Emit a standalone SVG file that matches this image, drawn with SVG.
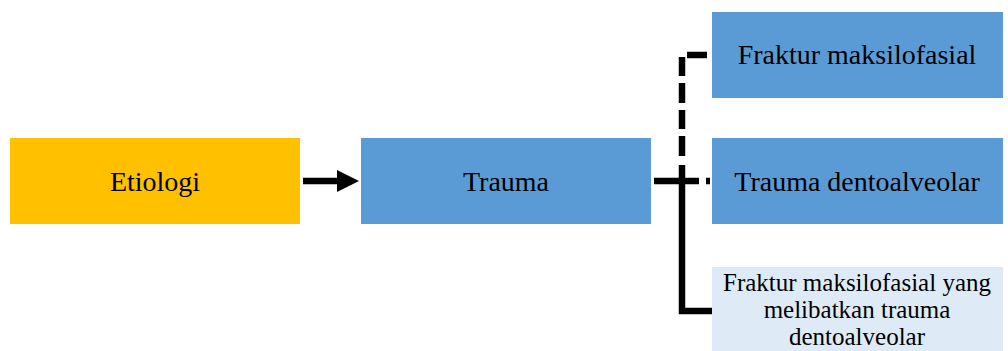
<svg xmlns="http://www.w3.org/2000/svg" width="1008" height="351" viewBox="0 0 1008 351">
<style>
text{font-family:"Liberation Serif","Times New Roman",serif;font-size:28px;fill:#000;text-anchor:middle}
text.s{font-size:25px}
.conn{fill:none;stroke:#000;stroke-width:6.5}
</style>
<rect width="1008" height="351" fill="#fff"/>
<g id="etiologi"><rect x="10" y="138" width="290" height="86" fill="#FFC000"/><text x="155" y="191">Etiologi</text></g>
<g id="trauma"><rect x="361" y="138" width="290" height="86" fill="#5B9BD5"/><text x="506" y="191">Trauma</text></g>
<g id="fraktur"><rect x="712" y="12" width="291" height="86" fill="#5B9BD5"/><text x="857" y="64">Fraktur maksilofasial</text></g>
<g id="dentoalveolar"><rect x="712" y="138" width="291" height="86" fill="#5B9BD5"/><text x="857" y="191">Trauma dentoalveolar</text></g>
<g id="gabungan"><rect x="712" y="267" width="291" height="90" fill="#DEEBF7"/><text class="s" x="857" y="291">Fraktur maksilofasial yang</text><text class="s" x="857" y="318">melibatkan trauma</text><text class="s" x="857" y="345">dentoalveolar</text></g>
<g id="connectors">
<path d="M303 181H340" class="conn" stroke-width="7"/>
<polygon points="337,170 359,181 337,192"/>
<path d="M654 181H710" class="conn" stroke-dasharray="45 7 4 100"/>
<path d="M707 55H682V160" class="conn" stroke-dasharray="20 7 19 7"/>
<path d="M682 165V311H712" class="conn"/>
</g>
</svg>
